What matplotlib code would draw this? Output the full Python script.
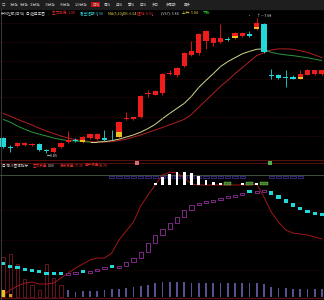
import numpy as np
import matplotlib
matplotlib.use("Agg")
import matplotlib.pyplot as plt
from matplotlib.patches import Rectangle
from matplotlib.collections import LineCollection

plt.rcParams['font.family'] = ['Noto Sans CJK SC', 'DejaVu Sans']

# ---- 主图 K线数据 ----
opens  = [4.27, 4.02, 4.05, 4.07, 4.07, 4.10, 3.93, 3.88, 4.02, 4.16,
          4.21, 4.16, 4.27, 4.24, 4.27, 4.30, 4.30, 4.80, 4.80, 4.86,
          5.52, 5.50, 5.53, 6.09, 6.04, 6.32, 6.62, 6.68, 7.02, 6.96,
          6.99, 7.07, 7.10, 7.16, 7.20, 7.35, 7.49, 6.04, 6.04, 5.98,
          6.01, 5.95, 6.06, 6.09, 6.09]
closes = [4.02, 3.99, 4.13, 4.13, 4.10, 3.93, 3.91, 3.99, 4.13, 4.21,
          4.19, 4.30, 4.38, 4.38, 4.21, 4.29, 4.72, 4.83, 4.86, 5.45,
          5.53, 5.59, 6.09, 6.12, 6.26, 6.68, 6.74, 7.21, 7.30, 7.10,
          7.10, 7.04, 7.24, 7.24, 7.16, 7.52, 6.71, 6.03, 5.98, 5.97,
          5.95, 6.09, 6.18, 6.18, 6.18]
highs  = [4.30, 4.07, 4.16, 4.16, 4.13, 4.13, 3.96, 4.02, 4.16, 4.46,
          4.27, 4.33, 4.41, 4.41, 4.49, 4.49, 4.75, 5.00, 4.88, 5.48,
          5.64, 5.62, 6.12, 6.18, 6.29, 6.71, 7.02, 7.24, 7.32, 7.13,
          7.49, 7.13, 7.27, 7.27, 7.30, 7.66, 7.52, 6.23, 6.07, 6.18,
          6.04, 6.18, 6.23, 6.20, 6.20]
lows   = [3.99, 3.88, 4.02, 4.05, 4.05, 3.91, 3.85, 3.86, 3.99, 4.13,
          4.16, 4.13, 4.24, 4.21, 4.19, 4.21, 4.27, 4.77, 4.77, 4.83,
          5.42, 5.48, 5.50, 6.06, 6.01, 6.29, 6.60, 6.62, 6.79, 6.88,
          6.96, 7.02, 7.07, 7.13, 7.13, 7.32, 6.68, 5.95, 5.95, 5.70,
          5.93, 5.93, 6.04, 6.06, 6.06]
yellow_marks = [11, 16, 32, 35, 41]

ma_short = [4.80, 4.72, 4.61, 4.52, 4.44, 4.38, 4.33, 4.27, 4.23, 4.20,
            4.19, 4.17, 4.16, 4.16, 4.17, 4.20, 4.24, 4.30, 4.36, 4.44,
            4.54, 4.66, 4.82, 4.97, 5.11, 5.25, 5.45, 5.70, 5.90, 6.09,
            6.29, 6.43, 6.54, 6.65, 6.72, 6.78, 6.79, 6.69, 6.65, 6.62,
            6.60, 6.57, 6.54, 6.50, 6.46]
ma_long  = [4.97, 4.89, 4.80, 4.72, 4.64, 4.55, 4.47, 4.40, 4.33, 4.27,
            4.23, 4.20, 4.17, 4.16, 4.16, 4.17, 4.20, 4.24, 4.30, 4.36,
            4.43, 4.50, 4.57, 4.65, 4.72, 4.80, 4.94, 5.14, 5.34, 5.53,
            5.73, 5.90, 6.09, 6.26, 6.43, 6.60, 6.68, 6.76, 6.79, 6.79,
            6.78, 6.74, 6.69, 6.62, 6.54]
price_grid = [7.52, 6.99, 6.46, 5.95, 5.42, 4.86, 4.33]
signal_dots = [13.0, 16.4, 20.6, 34.0, 36.8]

# ---- 副图指标数据 ----
ind_line = [2.4, 6.5, 9.8, 12.2, 13.0, 11.4, 11.4, 12.2, 16.3, 20.3,
            24.4, 27.6, 30.9, 32.5, 32.5, 36.6, 47.2, 54.5, 61.8, 74.8,
            83.7, 91.9, 100.0, 102.4, 101.6, 97.6, 92.7, 91.9, 91.9, 91.9,
            91.9, 91.9, 91.9, 91.9, 91.9, 92.7, 82.1, 69.9, 61.8, 55.3,
            52.8, 52.0, 51.2, 49.6, 48.0]
ind_box = [26.8, 24.4, 23.6, 22.0, 21.1, 20.3, 18.7, 18.7, 18.7, 19.5,
           20.3, 20.3, 22.0, 23.6, 24.4, 24.4, 26.0, 29.3, 32.5, 37.4,
           44.7, 51.2, 56.1, 61.0, 65.9, 71.5, 75.6, 77.2, 78.0, 79.7,
           81.3, 82.1, 83.7, 85.4, 85.4, 86.2, 87.0, 83.7, 80.5, 77.2,
           74.0, 71.5, 69.1, 67.5, 66.7]
white_top = [None] * 21 + [93.5, 98.4, 100.8, 102.4, 102.4, 101.6, 99.2, 95.9, 94.3, 93.5] \
            + [None, None, 93.2, None, 93.2] + [None] * 10
buy_tags = [31, 34, 36]
hold_flag = [0] * 15 + [1] * 19 + [0] * 3 + [1] * 5 + [0] * 3
vol_bar = [32.5, 35.0, 26.8, 14.6, 9.8, 5.7, 26.8, 15.4, 9.8, 5.7,
           4.1, 4.5, 4.9, 5.3, 5.7, 6.5, 6.9, 7.3, 8.1, 8.9,
           9.8, 11.4, 12.2, 12.2, 12.2, 12.2, 11.4, 11.4, 11.4, 11.4,
           11.4, 11.4, 11.4, 11.4, 11.4, 11.4, 10.6, 8.1, 7.3, 7.3,
           6.5, 6.5, 6.5, 6.5, 6.5]
ind_grid = [71.5, 47.2, 22.8]
level_line = 100.0
white_base = 91.9

# ---- 文字 ----
tabs = ['□', '1分钟', '5分钟', '15分钟', '30分钟', '60分钟', '120分钟', '日线', '周线',
        '月线', '季线', '年线', '多日', '多周期', '更多']
tab_x = [2, 10, 20, 30, 45, 60, 75, 92, 104, 116, 128, 140, 152, 166, 184]
info1 = ['中州控股(日线)', '◎ 趋势王图', '主力抄底: 1.00', '看空短期: 0.00',
         'MA(5,10)DB: 6.64', '短线: 6.51', '(VS7): 5.84', '上升: 5.84', '下跌:']
info1_x = [1, 26, 52, 80, 108, 137, 161, 182, 203]
info1_c = ['#d0d0d0', '#d0d0d0', '#ff3030', '#30d0d0', '#e0d040', '#ff3030',
           '#d0d0d0', '#e0d040', '#30d030']
info2 = ['◎ 神斗图谱指标', '主力资金', '0.00', '多方资金', '77.35', '散户资金', '58.70']
info2_x = [2, 33, 48, 60, 75, 85, 99]
info2_c = ['#d0d0d0', '#ff3030', '#d0d0d0', '#ff3030', '#ff3030', '#ff3030', '#ff3030']

RED = '#f01c1c'
CYAN = '#22d8d8'
YEL = '#e8c020'

n = len(opens)
x = np.arange(n)
W, H = 324, 300

fig = plt.figure(figsize=(3.24, 3.0), dpi=100, facecolor='black')

# 顶部工具栏
fig.patches.append(Rectangle((0, 1 - 9 / H), 1, 9 / H, transform=fig.transFigure,
                             color='#1e1e1e', zorder=0))
for t, px in zip(tabs, tab_x):
    bb = dict(boxstyle='square,pad=0.2', fc='#c01010', ec='none') if t == '日线' else None
    fig.text(px / W, 1 - 4.5 / H, t, color='#c4c4c4', fontsize=2.5, va='center', ha='left', bbox=bb)

# ---- 主图 ----
ax = fig.add_axes([0, 141 / H, 1, 148 / H], facecolor='black')
for g in price_grid:
    ax.axhline(g, color='#5a1010', lw=0.5, ls=(0, (1, 2)))

for i in range(n):
    o, c, h, l = opens[i], closes[i], highs[i], lows[i]
    col = RED if c >= o else CYAN
    ax.vlines(x[i], l, h, color=col, lw=0.6, zorder=3)
    body = max(abs(c - o), 0.02)
    ax.bar(x[i], body, bottom=min(o, c), width=0.7, color=col, lw=0, zorder=4)
    if i in yellow_marks:
        ax.bar(x[i], body * 0.35, bottom=min(o, c), width=0.7, color=YEL, lw=0, zorder=5)

ax.plot(x, ma_long, color='#b02020', lw=0.7, zorder=2)
pts = np.column_stack([x, ma_short])
segs = np.stack([pts[:-1], pts[1:]], axis=1)
seg_cols = ['#d8d890' if ma_short[i + 1] >= ma_short[i] else '#2a9a40' for i in range(n - 1)]
ax.add_collection(LineCollection(segs, colors=seg_cols, lw=0.7, zorder=2))

ax.text(35, 7.72, '↑—7.66', color='#e0e0e0', fontsize=2.7, va='center', ha='left')
ax.text(6, 3.76, '←3.85', color='#e0e0e0', fontsize=2.7, va='center', ha='left')
for px in signal_dots:
    ax.plot(px, 7.74, marker='o', ms=0.8, color='#c040c0', mew=0)

ax.set_xlim(-0.414, 44.28)
ax.set_ylim(3.68, 7.86)
ax.axis('off')

for t, px, col in zip(info1, info1_x, info1_c):
    fig.text(px / W, 1 - 13 / H, t, color=col, fontsize=2.6, va='center', ha='left')

# 分隔线
fig.add_artist(plt.Line2D([0, 1], [1 - 159.5 / H] * 2, color='#6a1010', lw=0.6))

# ---- 副图 ----
ax2 = fig.add_axes([0, 1 / H, 1, 139 / H], facecolor='black')
for g in ind_grid:
    ax2.axhline(g, color='#4a1010', lw=0.5, ls=(0, (1, 2)))
ax2.axhline(level_line, color='#4a5a48', lw=0.6)
ax2.axhline(110.0, color='#6a1010', lw=0.6)
ax2.plot(18.5, 110.0, marker='s', ms=2.2, color='#d07070', mew=0)
ax2.plot(36.8, 110.0, marker='s', ms=2.2, color='#50b050', mew=0)

for i in range(n):
    if hold_flag[i]:
        ax2.add_patch(Rectangle((x[i] - 0.35, level_line - 2.2), 0.7, 1.6,
                                fill=False, ec='#4838a8', lw=0.5))

for i in range(n):
    if white_top[i] is not None:
        ax2.bar(x[i], white_top[i] - white_base, bottom=white_base, width=0.4,
                color='white', lw=0, zorder=4)
for i in buy_tags:
    ax2.add_patch(Rectangle((x[i] - 0.5, white_base), 1.0, 2.6, fc='#3a7a2a', ec='#90d060',
                            lw=0.3, zorder=5))

for i in range(n):
    prev = ind_box[i - 1] if i > 0 else ind_box[i] + 2.5
    cur = ind_box[i]
    if cur > prev:
        h = max(cur - prev, 1.4)
        ax2.add_patch(Rectangle((x[i] - 0.3, prev), 0.6, h, fill=False, ec='#90309a', lw=0.6, zorder=3))
    else:
        h = max(prev - cur, 2.2)
        ax2.add_patch(Rectangle((x[i] - 0.3, cur), 0.6, h, fc=CYAN, ec='none', zorder=3))

ax2.plot(x, ind_line, color='#a01818', lw=0.7, zorder=2)

for i in range(n):
    if i < 9:
        ax2.add_patch(Rectangle((x[i] - 0.22, 0.8), 0.44, vol_bar[i], fill=False,
                                ec='#8a1a2a', lw=0.5, zorder=2))
    else:
        ax2.bar(x[i], vol_bar[i], bottom=0.8, width=0.22, color='#5a5090', lw=0, zorder=2)
ax2.bar(x[0], 5.7, bottom=0.8, width=0.44, color=YEL, lw=0, zorder=3)
ax2.bar(x[1], 2.4, bottom=0.8, width=0.44, color='#e09020', lw=0, zorder=3)
ax2.axhline(0.0, color='#5a1010', lw=0.8)

ax2.set_xlim(-0.414, 44.28)
ax2.set_ylim(-0.8, 112.2)
ax2.axis('off')

for t, px, col in zip(info2, info2_x, info2_c):
    fig.text(px / W, 1 - 166 / H, t, color=col, fontsize=2.6, va='center', ha='left')

fig.add_artist(plt.Line2D([0.8 / W] * 2, [0, 1 - 9 / H], color='#505050', lw=0.5))

fig.savefig('out.png', dpi=100, facecolor='black')
